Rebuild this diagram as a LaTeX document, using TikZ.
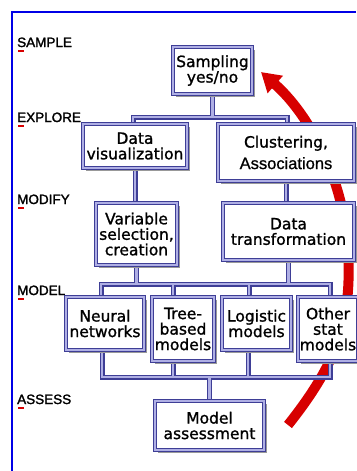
\documentclass[tikz,border=0pt]{standalone}
\usepackage{fontspec}
\newfontfamily\boxfont[FakeBold=1.2]{DejaVu Sans}
\newfontfamily\assocfont[FakeBold=0.8]{Liberation Sans}
\newfontfamily\labfont[FakeBold=1.8]{Liberation Sans}
\usetikzlibrary{arrows.meta,shadows,calc}
\pgfdeclarelayer{bg}
\pgfsetlayers{bg,main}
\definecolor{cdark}{RGB}{62,62,150}
\definecolor{clight}{RGB}{175,175,228}
\definecolor{arrred}{RGB}{215,0,0}
\definecolor{frameblue}{RGB}{0,0,230}
\newcommand\drawconns[1]{%
  \draw[#1] (samp.south) -- (samp.south |- b1);
  \draw[#1] (b1) -- (b2);
  \draw[#1] (b1) -- (b1 |- dvis.north);
  \draw[#1] (b2) -- (b2 |- clus.north);
  \draw[#1] (dvis.south) -- (dvis.south |- varsel.north);
  \draw[#1] (clus.south) -- (clus.south |- dtrans.north);
  \draw[#1] (varsel.south) -- (varsel.south |- u1);
  \draw[#1] (dtrans.south) -- (dtrans.south |- u1);
  \draw[#1] (u1) -- (u4);
  \draw[#1] (u1) -- (u1 |- nn.north);
  \draw[#1] (u2) -- (u2 |- tree.north);
  \draw[#1] (u3) -- (u3 |- logi.north);
  \draw[#1] (u4) -- (u4 |- other.north);
  \draw[#1] (l1) -- (l4);
  \draw[#1] (l1) -- (l1 |- nn.south);
  \draw[#1] (l2) -- (l2 |- tree.south);
  \draw[#1] (l3) -- (l3 |- logi.south);
  \draw[#1] (l4) -- (l4 |- other.south);
  \draw[#1] (massess.north) -- (massess.north |- l1);
}
\begin{document}
\begin{tikzpicture}[x=1pt,y=-1pt,
  box/.style={rectangle, draw=cdark, line width=0.9pt, double=clight,
    double distance=1.5pt, fill=white,
    drop shadow={shadow xshift=2.5pt, shadow yshift=-2.5pt, fill=black!40, opacity=1},
    align=center, inner sep=0pt, font=\boxfont\fontsize{15.5}{15.5}\selectfont},
  stage/.style={anchor=base west, inner sep=0pt, font=\labfont\fontsize{13.5}{14}\selectfont},
  connout/.style={draw=cdark, line width=5pt, line cap=rect},
  connin/.style={draw=clight, line width=2.4pt, line cap=rect},
  redarc/.style={draw=arrred, line width=10pt, -{Triangle[length=19pt,width=22pt]}},
  frameline/.style={draw=frameblue, line width=2pt},
  mark red/.style={draw=arrred, line width=2pt}]
\useasboundingbox (0,0) rectangle (356,471);

% stage labels
\node[stage] (lsample) at (17,47) {SAMPLE};
\node[stage] (lexplore) at (17,122) {EXPLORE};
\node[stage] (lmodify) at (17,204) {MODIFY};
\node[stage] (lmodel) at (17,295) {MODEL};
\node[stage] (lassess) at (17,404) {ASSESS};
\foreach \n in {lsample,lexplore,lmodify,lmodel,lassess}
  \draw[mark red] ($(\n.base west)+(1,3.5)$) -- ++(6,0);

% boxes
\node[box, minimum width=79pt, minimum height=47pt] (samp) at (212.5,70.5) {Sampling\\yes/no};
\node[box, minimum width=104pt, minimum height=44pt] (dvis) at (135,146) {Data\\visualization};
\node[box, minimum width=136pt, minimum height=57pt] (clus) at (286,152.5) {Clustering,\\[6pt]{\assocfont\fontsize{16.5}{16}\selectfont Associations}};
\node[box, minimum width=81pt, minimum height=62pt] (varsel) at (136.5,234) {Variable\\selection,\\creation};
\node[box, minimum width=131pt, minimum height=57pt] (dtrans) at (288.5,231.5) {Data\\transformation};
\node[box, minimum width=78pt, minimum height=53pt] (nn) at (105,323.5) {Neural\\networks};
\node[box, minimum width=62pt, minimum height=64pt] (tree) at (183,329) {Tree-\\based\\models};
\node[box, minimum width=69pt, minimum height=53pt] (logi) at (256.5,323.5) {Logistic\\models};
\node[box, minimum width=60pt, minimum height=64pt] (other) at (328,329) {Other\\stat\\models};
\node[box, minimum width=109pt, minimum height=49pt] (massess) at (209.5,425.5) {Model\\assessment};

% junction coordinates
\coordinate (b1) at (133,117);
\coordinate (b2) at (287,117);
\coordinate (u1) at (101,284);
\coordinate (u2) at (173,284);
\coordinate (u3) at (249,284);
\coordinate (u4) at (330,284);
\coordinate (l1) at (102,377);
\coordinate (l2) at (173,377);
\coordinate (l3) at (248,377);
\coordinate (l4) at (330,377);
\coordinate (rs) at (288,425);
\coordinate (rm) at (348,250);
\coordinate (rt) at (261,72);

\begin{pgfonlayer}{bg}
  \draw[frameline] (12,471) -- (12,12) -- (356,12);
  \draw[redarc] (rs) .. controls (338,362) and (352,320) .. (rm)
                     .. controls (344,180) and (310,115) .. (rt);
  \drawconns{connout}
  \drawconns{connin}
\end{pgfonlayer}
\end{tikzpicture}
\end{document}
